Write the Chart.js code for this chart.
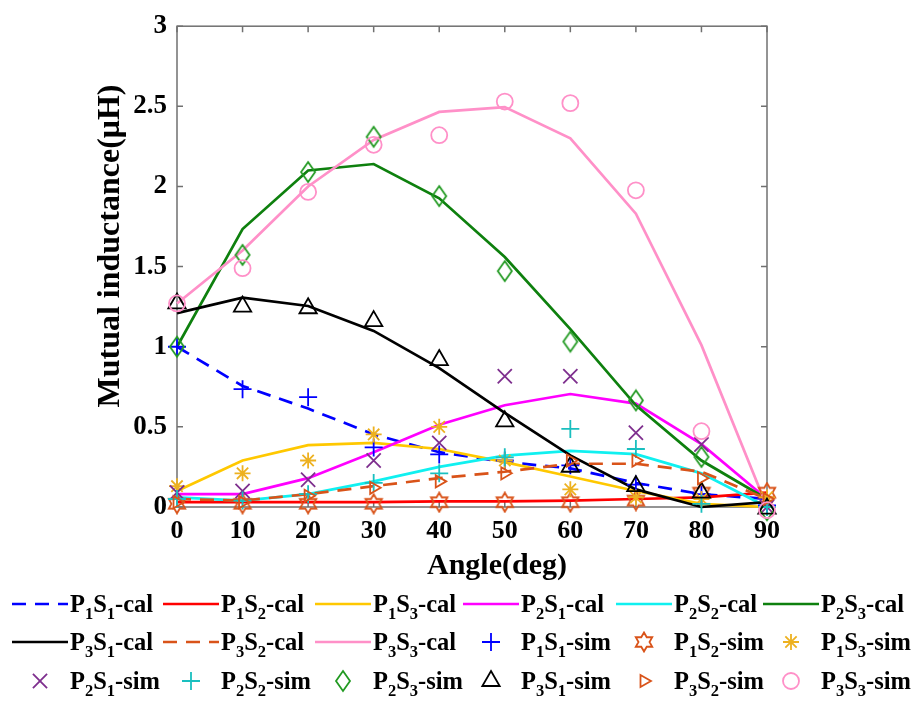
<!DOCTYPE html>
<html><head><meta charset="utf-8">
<script src="https://cdn.jsdelivr.net/npm/chart.js@4.4.1/dist/chart.umd.min.js"></script>
<style>html,body{margin:0;padding:0;background:#fff;}#wrap{width:913px;height:703px;}</style>
</head><body><div id="wrap"><canvas id="c" width="913" height="703"></canvas></div>
<script>
// ---- data ----
const angles = [0, 10, 20, 30, 40, 50, 60, 70, 80, 90];
const yTicks = [0, 0.5, 1, 1.5, 2, 2.5, 3];
const xTitle = 'Angle(deg)';
const yTitle = 'Mutual inductance(μH)';

const p1s1Cal = [1.00, 0.755, 0.614, 0.453, 0.342, 0.281, 0.241, 0.15, 0.08, 0.05];
const p1s2Cal = [0.03, 0.03, 0.03, 0.03, 0.035, 0.035, 0.04, 0.05, 0.06, 0.09];
const p1s3Cal = [0.10, 0.29, 0.386, 0.40, 0.362, 0.28, 0.19, 0.10, 0.02, 0.0];
const p2s1Cal = [0.08, 0.08, 0.18, 0.342, 0.513, 0.635, 0.705, 0.645, 0.392, 0.05];
const p2s2Cal = [0.06, 0.04, 0.08, 0.16, 0.25, 0.32, 0.35, 0.33, 0.21, 0.0];
const p2s3Cal = [1.0, 1.734, 2.10, 2.14, 1.926, 1.56, 1.11, 0.634, 0.29, 0.05];
const p3s1Cal = [1.21, 1.306, 1.254, 1.099, 0.867, 0.588, 0.322, 0.11, 0.0, 0.03];
const p3s2Cal = [0.05, 0.04, 0.08, 0.13, 0.18, 0.22, 0.27, 0.27, 0.22, 0.05];
const p3s3Cal = [1.27, 1.60, 2.0, 2.29, 2.465, 2.495, 2.30, 1.83, 1.01, 0.0];

const p1s1Sim = [1.0, 0.735, 0.685, 0.372, 0.328, 0.29, 0.26, 0.14, 0.08, 0.01];
const p1s2Sim = [0.02, 0.02, 0.02, 0.02, 0.03, 0.03, 0.03, 0.04, 0.09, 0.09];
const p1s3Sim = [0.13, 0.21, 0.29, 0.453, 0.50, 0.29, 0.11, 0.06, 0.05, 0.06];
const p2s1Sim = [0.09, 0.10, 0.17, 0.29, 0.40, 0.816, 0.816, 0.463, 0.39, 0.0];
const p2s2Sim = [0.05, 0.04, 0.08, 0.15, 0.21, 0.31, 0.487, 0.362, 0.02, 0.0];
const p2s3Sim = [1.0, 1.573, 2.09, 2.31, 1.94, 1.472, 1.032, 0.665, 0.312, -0.02];
const p3s1Sim = [1.27, 1.25, 1.24, 1.16, 0.917, 0.534, 0.251, 0.13, 0.09, -0.01];
const p3s2Sim = [0.03, 0.03, 0.07, 0.12, 0.16, 0.21, 0.29, 0.29, 0.18, 0.05];
const p3s3Sim = [1.27, 1.49, 1.966, 2.26, 2.32, 2.53, 2.52, 1.976, 0.473, -0.02];

// ---- styling ----
const FONT = '"Liberation Serif", "Times New Roman", serif';

function makeHexagram(color) {
  const c = document.createElement('canvas'); c.width = 22; c.height = 22;
  const g = c.getContext('2d'); g.strokeStyle = color; g.lineWidth = 1.8;
  g.beginPath();
  for (let k = 0; k < 12; k++) {
    const r = (k % 2 === 0) ? 9.5 : 5.5;
    const a = -Math.PI / 2 + k * Math.PI / 6;
    const px = 11 + r * Math.cos(a), py = 11 + r * Math.sin(a);
    if (k === 0) g.moveTo(px, py); else g.lineTo(px, py);
  }
  g.closePath(); g.stroke();
  return c;
}
function makeDiamond(color) {
  const c = document.createElement('canvas'); c.width = 18; c.height = 24;
  const g = c.getContext('2d'); g.strokeStyle = color; g.lineWidth = 1.8;
  g.beginPath(); g.moveTo(9, 2); g.lineTo(16, 12); g.lineTo(9, 22); g.lineTo(2, 12); g.closePath(); g.stroke();
  return c;
}

const lineSpecs = [
  ['P1S1-cal', p1s1Cal, '#0000FF', [14, 9]],
  ['P1S2-cal', p1s2Cal, '#FF0000', []],
  ['P1S3-cal', p1s3Cal, '#FFC800', []],
  ['P2S1-cal', p2s1Cal, '#FF00FF', []],
  ['P2S2-cal', p2s2Cal, '#10F0F0', []],
  ['P2S3-cal', p2s3Cal, '#0E800E', []],
  ['P3S1-cal', p3s1Cal, '#000000', []],
  ['P3S2-cal', p3s2Cal, '#D95319', [14, 9]],
  ['P3S3-cal', p3s3Cal, '#FF90C8', []]
];
const markerSpecs = [
  ['P1S1-sim', p1s1Sim, '#0000FF', 'cross', 9, 0],
  ['P1S2-sim', p1s2Sim, '#D95319', makeHexagram('#D95319'), 9, 0],
  ['P1S3-sim', p1s3Sim, '#EDB120', 'star', 8, 0],
  ['P2S1-sim', p2s1Sim, '#7E2F8E', 'crossRot', 10, 0],
  ['P2S2-sim', p2s2Sim, '#1ABFBF', 'cross', 9, 0],
  ['P2S3-sim', p2s3Sim, '#229A22', makeDiamond('#229A22'), 9, 0],
  ['P3S1-sim', p3s1Sim, '#000000', 'triangle', 10, 0],
  ['P3S2-sim', p3s2Sim, '#D95319', 'triangle', 7, 90],
  ['P3S3-sim', p3s3Sim, '#FF90C8', 'circle', 8, 0]
];

function pts(arr) { return arr.map((v, i) => ({ x: angles[i], y: v })); }

const datasets = [];
lineSpecs.forEach(s => datasets.push({
  label: s[0], data: pts(s[1]), borderColor: s[2], backgroundColor: s[2],
  borderWidth: 2.7, borderDash: s[3], pointRadius: 0, pointHoverRadius: 0,
  showLine: true, fill: false, tension: 0, clip: false
}));
markerSpecs.forEach(s => datasets.push({
  label: s[0], data: pts(s[1]), showLine: false, borderColor: s[2],
  backgroundColor: 'rgba(0,0,0,0)', pointBorderColor: s[2], pointBackgroundColor: 'rgba(0,0,0,0)',
  pointStyle: s[3], pointRadius: s[4], pointHoverRadius: s[4], pointRotation: s[5],
  pointBorderWidth: 1.8, clip: false
}));
datasets.forEach((d, i) => { d.order = datasets.length - i; });

const boxPlugin = {
  id: 'box',
  beforeDatasetsDraw(chart) {
    const { ctx, chartArea: { left, right, top, bottom }, scales: { x, y } } = chart;
    ctx.save();
    ctx.strokeStyle = '#707070'; ctx.lineWidth = 1.5; ctx.setLineDash([]);
    ctx.strokeRect(left, top, right - left, bottom - top);
    const L = 6;
    ctx.beginPath();
    x.ticks.forEach(t => {
      const p = x.getPixelForValue(t.value);
      ctx.moveTo(p, bottom); ctx.lineTo(p, bottom - L);
      ctx.moveTo(p, top); ctx.lineTo(p, top + L);
    });
    y.ticks.forEach(t => {
      const p = y.getPixelForValue(t.value);
      ctx.moveTo(left, p); ctx.lineTo(left + L, p);
      ctx.moveTo(right, p); ctx.lineTo(right - L, p);
    });
    ctx.stroke();
    ctx.restore();
  }
};

const titlePlugin = {
  id: 'axisTitles',
  afterDraw(chart) {
    const ctx = chart.ctx;
    ctx.save();
    ctx.fillStyle = '#000'; ctx.textAlign = 'center'; ctx.textBaseline = 'middle';
    ctx.font = 'bold 30px ' + FONT;
    ctx.fillText(xTitle, 497, 566);
    ctx.translate(111, 246); ctx.rotate(-Math.PI / 2);
    ctx.font = 'bold 32px ' + FONT;
    ctx.fillText(yTitle, 0, 0);
    ctx.restore();
  }
};

const legendCols = [12, 163, 315, 463, 616, 763];
const legendRows = [604, 642, 681];
function drawSubText(ctx, text, x, y) {
  let cx = x;
  for (const ch of text) {
    if (/\d/.test(ch)) {
      ctx.font = 'bold 16.5px ' + FONT;
      ctx.fillText(ch, cx, y + 7);
    } else {
      ctx.font = 'bold 24.5px ' + FONT;
      ctx.fillText(ch, cx, y);
    }
    cx += ctx.measureText(ch).width;
  }
}
const legendPlugin = {
  id: 'subLegend',
  afterDraw(chart) {
    const ctx = chart.ctx;
    chart.data.datasets.forEach((ds, i) => {
      const x0 = legendCols[i % 6], cy = legendRows[Math.floor(i / 6)];
      ctx.save();
      if (ds.showLine) {
        ctx.strokeStyle = ds.borderColor; ctx.lineWidth = ds.borderWidth;
        ctx.setLineDash(ds.borderDash || []);
        ctx.beginPath(); ctx.moveTo(x0, cy); ctx.lineTo(x0 + 56, cy); ctx.stroke();
      } else {
        ctx.setLineDash([]);
        ctx.strokeStyle = ds.pointBorderColor; ctx.fillStyle = 'rgba(0,0,0,0)';
        ctx.lineWidth = ds.pointBorderWidth;
        Chart.helpers.drawPoint(ctx, {
          pointStyle: ds.pointStyle, radius: ds.pointRadius,
          rotation: ds.pointRotation || 0, borderWidth: ds.pointBorderWidth
        }, x0 + 28, cy);
      }
      ctx.setLineDash([]);
      ctx.fillStyle = '#000'; ctx.textBaseline = 'alphabetic'; ctx.textAlign = 'left';
      drawSubText(ctx, ds.label, x0 + 58, cy + 8);
      ctx.restore();
    });
  }
};

new Chart(document.getElementById('c'), {
  type: 'line',
  data: { datasets },
  options: {
    responsive: false, animation: false, devicePixelRatio: 1,
    layout: { padding: { left: 0, right: 146, top: 11, bottom: 121 } },
    plugins: { legend: { display: false }, tooltip: { enabled: false } },
    scales: {
      x: {
        type: 'linear', min: 0, max: 90,
        afterBuildTicks: s => { s.ticks = angles.map(v => ({ value: v })); },
        ticks: { color: '#000', font: { family: FONT, size: 26, weight: 'bold' }, padding: 9, maxRotation: 0 },
        grid: { display: false, drawTicks: false }, border: { display: false },
        afterFit: s => { s.height = 75; }
      },
      y: {
        type: 'linear', min: 0, max: 3,
        afterBuildTicks: s => { s.ticks = yTicks.map(v => ({ value: v })); },
        ticks: { color: '#000', font: { family: FONT, size: 27, weight: 'bold' }, padding: 10, callback: v => String(v) },
        grid: { display: false, drawTicks: false }, border: { display: false },
        afterFit: s => { s.width = 177; }
      }
    }
  },
  plugins: [boxPlugin, titlePlugin, legendPlugin]
});
</script></body></html>
